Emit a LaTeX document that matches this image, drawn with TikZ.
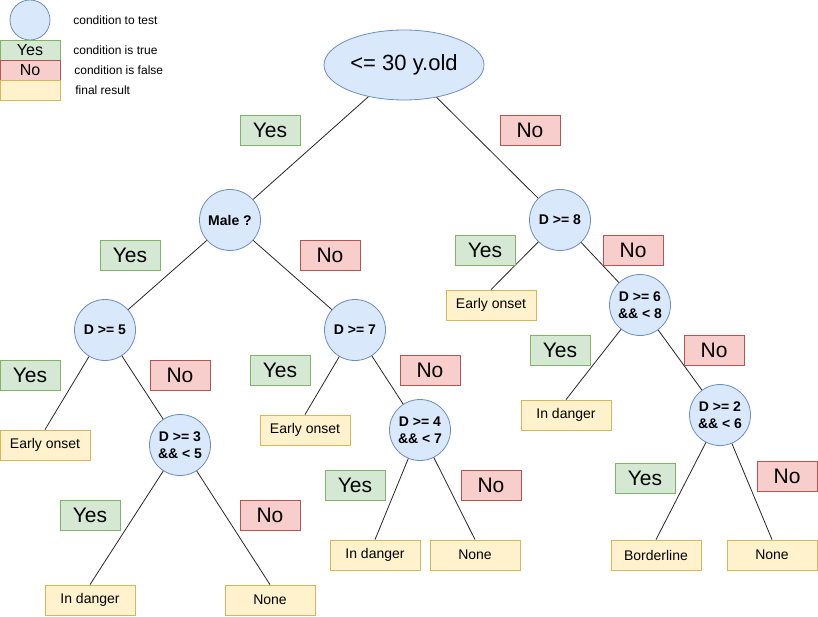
\documentclass[tikz,border=0pt]{standalone}
\usepackage{fontspec}
\setmainfont{Liberation Sans}
\usetikzlibrary{shapes.geometric}
\definecolor{condfill}{HTML}{DAE8FC}
\definecolor{condline}{HTML}{6C8EBF}
\definecolor{yesfill}{HTML}{D5E8D4}
\definecolor{yesline}{HTML}{82B366}
\definecolor{nofill}{HTML}{F8CECC}
\definecolor{noline}{HTML}{B85450}
\definecolor{endfill}{HTML}{FFF2CC}
\definecolor{endline}{HTML}{D6B656}
\tikzset{
  cond/.style={circle, draw=condline, fill=condfill, minimum size=61pt, inner sep=0pt,
    align=center, font=\fontsize{14}{17}\selectfont\bfseries},
  rootcond/.style={ellipse, draw=condline, fill=condfill, minimum width=160pt,
    minimum height=70pt, inner sep=0pt, font=\fontsize{22}{26}\selectfont},
  yesbox/.style={draw=yesline, fill=yesfill, minimum width=60pt, minimum height=30pt,
    inner sep=0pt, font=\fontsize{21}{24}\selectfont},
  nobox/.style={draw=noline, fill=nofill, minimum width=60pt, minimum height=30pt,
    inner sep=0pt, font=\fontsize{21}{24}\selectfont},
  endbox/.style={draw=endline, fill=endfill, minimum width=90pt, minimum height=30pt,
    inner sep=0pt, font=\fontsize{14}{17}\selectfont},
  keytext/.style={anchor=west, inner sep=0pt, font=\fontsize{12}{14}\selectfont},
  edge/.style={draw=black!85, line width=0.8pt}
}
\begin{document}
\begin{tikzpicture}[x=1pt, y=-1pt, line width=0.8pt]
    \useasboundingbox (0,0) rectangle (818,617);

    % legend
    \node[cond, minimum size=40pt] (keycond) at (30,20) {};
    \node[yesbox, minimum height=20pt, font=\fontsize{16}{18}\selectfont] (keyyes) at (30,50) {Yes};
    \node[nobox, minimum height=20pt, font=\fontsize{16}{18}\selectfont] (keyno) at (30,70) {No};
    \node[endbox, minimum width=60pt, minimum height=20pt] (keyend) at (30,90) {};
    \node[keytext] (keycondtxt) at (73,20) {condition to test};
    \node[keytext] (keyyestxt) at (73,50) {condition is true};
    \node[keytext] (keynotxt) at (74,70) {condition is false};
    \node[keytext] (keyendtxt) at (75,90) {final result};

    % conditions
    \node[rootcond] (root) at (404,65) {<= 30 y.old};
    \node[cond] (male) at (230,220) {Male ?};
    \node[cond] (d8) at (560,220) {D >= 8};
    \node[cond] (d5) at (105,330) {D >= 5};
    \node[cond] (d7) at (355,330) {D >= 7};
    \node[cond] (d6) at (640,305) {D >= 6\\\&\& < 8};
    \node[cond] (d3) at (180,445) {D >= 3\\\&\& < 5};
    \node[cond] (d4) at (420,430) {D >= 4\\\&\& < 7};
    \node[cond] (d2) at (720,415) {D >= 2\\\&\& < 6};

    % results
    \node[endbox] (early1) at (45,445) {Early onset};
    \node[endbox] (early2) at (305,430) {Early onset};
    \node[endbox] (early3) at (491,305) {Early onset};
    \node[endbox] (danger1) at (90,600) {In danger};
    \node[endbox] (danger2) at (375,555) {In danger};
    \node[endbox] (danger3) at (566,415) {In danger};
    \node[endbox] (none1) at (270,600) {None};
    \node[endbox] (none2) at (475,555) {None};
    \node[endbox] (none3) at (772,555) {None};
    \node[endbox] (border) at (656,555) {Borderline};

    % branches
    \draw[edge] (root) -- (male);
    \draw[edge] (root) -- (d8);
    \draw[edge] (male) -- (d5);
    \draw[edge] (male) -- (d7);
    \draw[edge] (d5) -- (early1.north);
    \draw[edge] (d5) -- (d3);
    \draw[edge] (d3) -- (danger1.north);
    \draw[edge] (d3) -- (none1.north);
    \draw[edge] (d7) -- (early2.north);
    \draw[edge] (d7) -- (d4);
    \draw[edge] (d4) -- (danger2.north);
    \draw[edge] (d4) -- (none2.north);
    \draw[edge] (d8) -- (early3.north);
    \draw[edge] (d8) -- (d6);
    \draw[edge] (d6) -- (danger3.north);
    \draw[edge] (d6) -- (d2);
    \draw[edge] (d2) -- (border.north);
    \draw[edge] (d2) -- (none3.north);

    % branch labels
    \node[yesbox] (yes1) at (270,130) {Yes};
    \node[nobox] (no1) at (530,130) {No};
    \node[yesbox] (yes2) at (130,255) {Yes};
    \node[nobox] (no2) at (330,255) {No};
    \node[yesbox] (yes3) at (485,250) {Yes};
    \node[nobox] (no3) at (633,250) {No};
    \node[yesbox] (yes4) at (30,375) {Yes};
    \node[nobox] (no4) at (180,375) {No};
    \node[yesbox] (yes5) at (280,370) {Yes};
    \node[nobox] (no5) at (430,370) {No};
    \node[yesbox] (yes6) at (560,350) {Yes};
    \node[nobox] (no6) at (714,350) {No};
    \node[yesbox] (yes7) at (90,515) {Yes};
    \node[nobox] (no7) at (270,515) {No};
    \node[yesbox] (yes8) at (355,485) {Yes};
    \node[nobox] (no8) at (491,485) {No};
    \node[yesbox] (yes9) at (645,478) {Yes};
    \node[nobox] (no9) at (787,476) {No};
\end{tikzpicture}
\end{document}
